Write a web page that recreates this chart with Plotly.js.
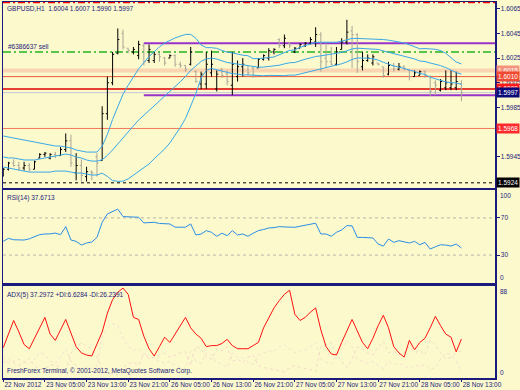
<!DOCTYPE html>
<html><head><meta charset="utf-8">
<script src="https://cdn.plot.ly/plotly-3.0.1.min.js"></script>
<style>html,body{margin:0;padding:0;background:#fcf9cc;}#chart{width:520px;height:390px;}</style>
</head><body><div id="chart"></div>
<script>
// ---- data ----
const tickIdx = [0,8,16,24,32,40,48,56,64,72,80,88];
const tickText = ["22 Nov 2012","23 Nov 05:00","23 Nov 13:00","23 Nov 21:00","26 Nov 05:00","26 Nov 13:00","26 Nov 21:00","27 Nov 05:00","27 Nov 13:00","27 Nov 21:00","28 Nov 05:00","28 Nov 13:00"];

const open = [1.5930,1.5935,1.5940,1.5938,1.5936,1.5938,1.5935,1.5944,1.5947,1.5944,
 1.5947,1.5946,1.5951,1.5958,1.5932,1.5938,1.5929,1.5933,1.5945,1.5942,
 1.5980,1.6005,1.6029,1.6045,1.6033,1.6030,1.6027,1.6035,1.6023,1.6023,
 1.6028,1.6025,1.6025,1.6027,1.6020,1.6019,1.6020,1.6014,1.6004,1.6004,
 1.6013,1.6000,1.6016,1.6012,1.6003,1.6010,1.6018,1.6019,1.6017,1.6017,
 1.6024,1.6025,1.6030,1.6040,1.6035,1.6037,1.6030,1.6033,1.6035,1.6037,
 1.6038,1.6044,1.6025,1.6022,1.6020,1.6032,1.6038,1.6047,1.6044,1.6018,
 1.6023,1.6021,1.6021,1.6018,1.6012,1.6019,1.6016,1.6018,1.6015,1.6010,
 1.6011,1.6014,1.6010,1.6005,1.5999,1.6001,1.6001,1.6001,1.6004];
const high = [1.5936,1.5941,1.5943,1.5941,1.5941,1.5940,1.5942,1.5948,1.5949,1.5948,
 1.5949,1.5953,1.5964,1.5963,1.5948,1.5943,1.5937,1.5934,1.5948,1.5986,
 1.6010,1.6030,1.6049,1.6048,1.6033,1.6034,1.6039,1.6037,1.6036,1.6030,
 1.6029,1.6026,1.6028,1.6028,1.6022,1.6019,1.6034,1.6015,1.6014,1.6030,
 1.6031,1.6015,1.6017,1.6015,1.6030,1.6023,1.6025,1.6019,1.6018,1.6025,
 1.6028,1.6033,1.6033,1.6041,1.6044,1.6038,1.6034,1.6037,1.6038,1.6042,
 1.6050,1.6046,1.6037,1.6034,1.6034,1.6041,1.6056,1.6051,1.6045,1.6030,
 1.6028,1.6028,1.6021,1.6018,1.6022,1.6021,1.6021,1.6019,1.6015,1.6015,
 1.6015,1.6015,1.6011,1.6007,1.6008,1.6015,1.6015,1.6014,1.6007];
const low = [1.5929,1.5934,1.5937,1.5934,1.5934,1.5933,1.5935,1.5944,1.5945,1.5943,
 1.5944,1.5946,1.5949,1.5937,1.5926,1.5925,1.5925,1.5926,1.5929,1.5942,
 1.5975,1.6003,1.6028,1.6032,1.6029,1.6028,1.6024,1.6019,1.6021,1.6021,
 1.6022,1.6019,1.6025,1.6018,1.6017,1.6014,1.6019,1.6005,1.6000,1.6000,
 1.6010,1.5998,1.6009,1.6003,1.5995,1.6006,1.6010,1.6011,1.6009,1.6017,
 1.6023,1.6023,1.6028,1.6033,1.6033,1.6033,1.6029,1.6033,1.6034,1.6036,
 1.6034,1.6014,1.6017,1.6019,1.6019,1.6032,1.6036,1.6017,1.6013,1.6015,
 1.6022,1.6019,1.6019,1.6009,1.6011,1.6014,1.6015,1.6015,1.6007,1.6010,
 1.6011,1.6009,1.5994,1.5995,1.5998,1.5999,1.5999,1.5999,1.5990];
const close = [1.5935,1.5940,1.5938,1.5936,1.5938,1.5935,1.5941,1.5947,1.5948,1.5947,
 1.5946,1.5951,1.5958,1.5940,1.5938,1.5930,1.5933,1.5932,1.5940,1.5980,
 1.6005,1.6028,1.6040,1.6034,1.6031,1.6032,1.6036,1.6022,1.6032,1.6028,
 1.6026,1.6021,1.6027,1.6020,1.6019,1.6016,1.6030,1.6006,1.6012,1.6020,
 1.6020,1.6012,1.6011,1.6006,1.6020,1.6018,1.6020,1.6013,1.6011,1.6024,
 1.6027,1.6031,1.6032,1.6035,1.6041,1.6035,1.6033,1.6036,1.6037,1.6040,
 1.6044,1.6022,1.6022,1.6020,1.6030,1.6038,1.6046,1.6044,1.6022,1.6023,
 1.6025,1.6026,1.6020,1.6011,1.6019,1.6016,1.6018,1.6016,1.6010,1.6013,
 1.6014,1.6011,1.5998,1.6003,1.6006,1.6005,1.6004,1.6006,1.5997];

const bbUpper = [1.59619,1.59611,1.59603,1.59595,1.59587,1.59579,1.59570,1.59562,1.59554,1.59546,
 1.59538,1.59538,1.59530,1.59522,1.59506,1.59498,1.59489,1.59489,1.59489,1.59536,
 1.59632,1.59753,1.59860,1.59958,1.60030,1.60100,1.60163,1.60213,1.60262,1.60301,
 1.60341,1.60372,1.60393,1.60413,1.60428,1.60441,1.60442,1.60410,1.60356,1.60335,
 1.60334,1.60329,1.60312,1.60298,1.60292,1.60281,1.60273,1.60269,1.60245,1.60246,
 1.60247,1.60254,1.60259,1.60277,1.60298,1.60312,1.60316,1.60337,1.60351,1.60363,
 1.60377,1.60378,1.60379,1.60380,1.60378,1.60387,1.60399,1.60409,1.60409,1.60407,
 1.60407,1.60408,1.60406,1.60400,1.60395,1.60388,1.60383,1.60373,1.60358,1.60344,
 1.60325,1.60327,1.60325,1.60321,1.60311,1.60289,1.60253,1.60218,1.60203];
const bbMid = [1.59449,1.59441,1.59441,1.59433,1.59425,1.59425,1.59425,1.59433,1.59441,1.59449,
 1.59457,1.59465,1.59473,1.59465,1.59449,1.59441,1.59425,1.59416,1.59416,1.59427,
 1.59462,1.59506,1.59557,1.59606,1.59652,1.59701,1.59748,1.59786,1.59828,1.59868,
 1.59908,1.59943,1.59978,1.60018,1.60058,1.60101,1.60150,1.60187,1.60223,1.60243,
 1.60250,1.60242,1.60228,1.60214,1.60208,1.60201,1.60193,1.60189,1.60178,1.60176,
 1.60177,1.60182,1.60184,1.60192,1.60203,1.60212,1.60214,1.60229,1.60241,1.60251,
 1.60263,1.60268,1.60274,1.60281,1.60286,1.60296,1.60309,1.60324,1.60330,1.60329,
 1.60328,1.60326,1.60320,1.60308,1.60297,1.60287,1.60280,1.60270,1.60256,1.60243,
 1.60226,1.60222,1.60210,1.60201,1.60189,1.60173,1.60152,1.60133,1.60120];
const bbLower = [1.59368,1.59360,1.59352,1.59344,1.59335,1.59327,1.59327,1.59327,1.59327,1.59327,
 1.59335,1.59335,1.59335,1.59327,1.59319,1.59319,1.59311,1.59303,1.59303,1.59318,
 1.59292,1.59258,1.59252,1.59253,1.59272,1.59301,1.59333,1.59359,1.59393,1.59435,
 1.59475,1.59514,1.59563,1.59623,1.59688,1.59761,1.59858,1.59963,1.60089,1.60150,
 1.60166,1.60155,1.60143,1.60129,1.60124,1.60121,1.60113,1.60114,1.60111,1.60106,
 1.60107,1.60110,1.60109,1.60107,1.60108,1.60112,1.60112,1.60121,1.60131,1.60139,
 1.60149,1.60158,1.60169,1.60181,1.60194,1.60204,1.60219,1.60239,1.60251,1.60251,
 1.60249,1.60244,1.60234,1.60216,1.60199,1.60186,1.60177,1.60167,1.60154,1.60142,
 1.60127,1.60117,1.60095,1.60081,1.60067,1.60057,1.60051,1.60048,1.60038];

const rsi = [44.8,48,46.5,46.5,46.2,47.5,50,52,52.7,52.8,
 53.7,52,60.6,46.2,44.8,40.8,43,44,49,65.3,
 74.3,77,79.4,71.4,71,71,70.7,64.6,65,65.3,
 64,63.5,63.5,60,60,60,63.5,51.6,52.7,56.3,
 54.5,50.2,53.5,50.9,56.3,51.6,52.7,50.2,53.5,56.3,
 57.5,59.2,59.5,60.6,60.3,60,59.9,61,62,63,
 64.3,52.7,52.7,50.2,54.5,57,61.7,61.4,49.1,49,
 48.6,48.4,41.9,39.7,47.3,43.7,45.5,44,43,44.8,
 41.1,43.7,36.5,39,41.1,40.8,39.7,41.9,37.67];

const adx = [29,43,55,44,32,28,38,48,58,42,
 36,46,56,43,30,24,22,21,32,44,
 62,75,82,86,80,58,56,40,28,21,
 30,39,34,42,50,58,48,42,38,30,
 31,31,33,37,31,28,28,28,31,34,
 48,57,67,74,80,84,61,55,58,63,
 67,46,30,23,22,34,45,56,45,34,
 28,38,50,60,48,30,24,20,36,27,
 34,38,48,59,50,42,39,25,37.3];
const plusDI = [15,18,14,12,15,13,18,25,22,16,
 14,20,28,16,12,8,10,9,12,40,
 48,52,50,38,30,26,28,20,22,18,
 16,14,16,12,10,9,26,16,14,24,
 22,15,13,10,24,20,19,15,13,22,
 24,26,25,30,32,28,24,26,27,30,
 34,18,15,13,22,28,36,30,18,16,
 14,16,12,9,16,13,14,12,9,12,
 11,13,8,10,18,24,22,16,6.6];
const minusDI = [20,14,16,18,15,19,12,8,9,12,
 13,9,6,24,28,34,30,28,20,8,
 5,4,3,10,14,15,12,24,18,20,
 22,24,20,22,24,25,12,30,28,20,
 18,28,26,30,16,18,15,20,22,12,
 10,9,8,7,6,10,12,10,9,8,
 6,30,32,34,22,16,10,18,30,28,
 24,22,30,35,24,26,22,24,30,24,
 26,22,36,32,24,18,20,24,26.2];

const priceTicks = [1.6065,1.6045,1.6025,1.6005,1.5985,1.5945];
const stopLevel = 1.6070, orderLevel = 1.6030, peachLevel = 1.6015, redLevel1 = 1.6010,
      redLevel2 = 1.6000, bidLevel = 1.5997, redLevel3 = 1.5968, blackLevel = 1.5924;
const channelTop = 1.6037, channelBottom = 1.5995, channelStartBar = 27;
const orderLabel = "#6386637 sell";
const rsiLabel = "RSI(14) 37.6713";
const adxLabel = "ADX(5) 37.2972 +DI:6.6284 -DI:26.2391";
const footer = "FreshForex Terminal, \u00a9 2001-2012, MetaQuotes Software Corp.";

// ---- drawing ----
const NAVY = '#1b1b7d', BG = '#fcf9cc', CYAN = '#38a8e8';
const FONT = 'Liberation Sans, Arial, sans-serif';
const last = open.length - 1;
const x = open.map((_, i) => i);
const xRange = [-0.05, 94.45];

const data = [
  {type:'scatter', mode:'lines', x:x, y:bbUpper, xaxis:'x', yaxis:'y', line:{color:CYAN, width:1}, hoverinfo:'skip'},
  {type:'scatter', mode:'lines', x:x, y:bbMid, xaxis:'x', yaxis:'y', line:{color:CYAN, width:1}, hoverinfo:'skip'},
  {type:'scatter', mode:'lines', x:x, y:bbLower, xaxis:'x', yaxis:'y', line:{color:CYAN, width:1}, hoverinfo:'skip'},
  {type:'ohlc', x:x, open:open, high:high, low:low, close:close, xaxis:'x', yaxis:'y',
   tickwidth:0.3, line:{width:1},
   increasing:{line:{color:'#000000', width:1}}, decreasing:{line:{color:'#aaa596', width:1}}, hoverinfo:'skip'},
  {type:'scatter', mode:'lines', x:x, y:rsi, xaxis:'x2', yaxis:'y2', line:{color:'#2a8ee8', width:1}, hoverinfo:'skip'},
  {type:'scatter', mode:'lines', x:x, y:plusDI, xaxis:'x3', yaxis:'y3', line:{color:'#f6e0d0', width:1, dash:'dot'}, hoverinfo:'skip'},
  {type:'scatter', mode:'lines', x:x, y:minusDI, xaxis:'x3', yaxis:'y3', line:{color:'#f5dacb', width:1, dash:'dot'}, hoverinfo:'skip'},
  {type:'scatter', mode:'lines', x:x, y:adx, xaxis:'x3', yaxis:'y3', line:{color:'#ff1010', width:1}, hoverinfo:'skip'}
];

function hline(y, color, width, dash) {
  return {type:'line', xref:'paper', yref:'y', x0:0, x1:1, y0:y, y1:y, layer:'below',
          line:{color:color, width:width, dash:dash || 'solid'}};
}
function ray(y) {
  return {type:'line', xref:'x', yref:'y', x0:channelStartBar, x1:xRange[1], y0:y, y1:y, layer:'below',
          line:{color:'#9932cc', width:2}};
}
function levelDash(yref, y) {
  return {type:'line', xref:'paper', yref:yref, x0:0, x1:1, y0:y, y1:y, layer:'below',
          line:{color:'#b9b6a8', width:1, dash:'3px,3px'}};
}
const shapes = [
  hline(stopLevel, '#ff0000', 1.5, '7px,3px,2px,3px'),
  hline(peachLevel, '#f9d5b2', 4),
  hline(redLevel1, '#ee5a3c', 1),
  hline(redLevel2, '#e00000', 1.5),
  hline(bidLevel, '#c4c4d8', 1),
  hline(redLevel3, '#f07a5a', 1),
  hline(blackLevel, '#000000', 1, '3px,3px'),
  hline(orderLevel, '#22b422', 1.5, '8px,3px,2px,3px'),
  ray(channelTop), ray(channelBottom),
  levelDash('y2', 70), levelDash('y2', 30)
];

function priceBox(y, bg, fg) {
  return {xref:'paper', yref:'y', x:1, y:y, xanchor:'left', yanchor:'middle', xshift:1,
          text:y.toFixed(4), showarrow:false, bgcolor:bg, borderpad:1,
          font:{family:FONT, size:6.5, color:fg || '#ffffff'}};
}
function sideLabel(yref, y, text, anchor) {
  return {xref:'paper', yref:yref, x:1, y:y, xanchor:'left', yanchor:anchor, xshift:3,
          text:text, showarrow:false, font:{family:FONT, size:6.5, color:NAVY}};
}
function panelText(yref, y, text, anchor, yshift) {
  return {xref:'paper', yref:yref, x:0, y:y, xanchor:'left', yanchor:anchor, xshift:2, yshift:yshift,
          text:text, showarrow:false, font:{family:FONT, size:6.5, color:NAVY}};
}

const header = 'GBPUSD,H1  ' + [open[last], high[last], low[last], close[last]].map(v => v.toFixed(4)).join(' ');
const annotations = [
  panelText('y domain', 1, header, 'top', -1),
  {xref:'paper', yref:'y', x:0, y:orderLevel, xanchor:'left', yanchor:'bottom', xshift:3, yshift:0,
   text:orderLabel, showarrow:false, font:{family:FONT, size:6.5, color:NAVY}},
  panelText('y2 domain', 1, rsiLabel, 'top', -2),
  panelText('y3 domain', 1, adxLabel, 'top', -3),
  panelText('y3 domain', 0, footer, 'bottom', 1),
  priceBox(peachLevel, '#f3937c'),
  priceBox(redLevel1, '#f04a32'),
  priceBox(redLevel2, '#ff1a1a'),
  priceBox(bidLevel, '#0a0a78'),
  priceBox(redLevel3, '#ff2a2a'),
  priceBox(blackLevel, '#000000'),
  sideLabel('y2', 100, '100', 'top'),
  sideLabel('y2', 0, '0', 'bottom'),
  sideLabel('y3', 88, '88', 'top'),
  sideLabel('y3', 0, '0', 'bottom')
];

const xBase = {range:xRange, showgrid:false, zeroline:false, showline:true, mirror:true,
               linecolor:NAVY, linewidth:1.5, fixedrange:true};
const yBase = {side:'right', showgrid:false, zeroline:false, showline:true, mirror:true,
               linecolor:NAVY, linewidth:1.5, ticks:'outside', ticklen:3, tickcolor:NAVY,
               tickfont:{family:FONT, size:6.5, color:NAVY}, fixedrange:true};

const layout = {
  width:520, height:390, margin:{l:3, r:25, t:2, b:12},
  paper_bgcolor:BG, plot_bgcolor:BG, showlegend:false,
  font:{family:FONT, size:6.5, color:NAVY},
  xaxis:Object.assign({}, xBase, {anchor:'y', showticklabels:false, ticks:'', rangeslider:{visible:false}}),
  xaxis2:Object.assign({}, xBase, {anchor:'y2', matches:'x', showticklabels:false, ticks:''}),
  xaxis3:Object.assign({}, xBase, {anchor:'y3', matches:'x', tickmode:'array', tickvals:tickIdx, ticktext:tickText,
          ticks:'outside', ticklen:2, tickcolor:NAVY, ticklabelposition:'outside right', tickangle:0,
          ticklabelstandoff:0, automargin:false,
          tickfont:{family:FONT, size:6.5, color:NAVY}}),
  yaxis:Object.assign({}, yBase, {domain:[0.5053, 1], anchor:'x', range:[1.59198, 1.60704],
          tickmode:'array', tickvals:priceTicks, tickformat:'.4f'}),
  yaxis2:Object.assign({}, yBase, {domain:[0.2527, 0.5], anchor:'x2', range:[0, 100],
          tickmode:'array', tickvals:[70, 30]}),
  yaxis3:Object.assign({}, yBase, {domain:[0, 0.2447], anchor:'x3', range:[0, 88],
          tickmode:'array', tickvals:[]}),
  shapes:shapes,
  annotations:annotations
};

Plotly.newPlot('chart', data, layout, {displayModeBar:false, staticPlot:true});
</script>
</body></html>
